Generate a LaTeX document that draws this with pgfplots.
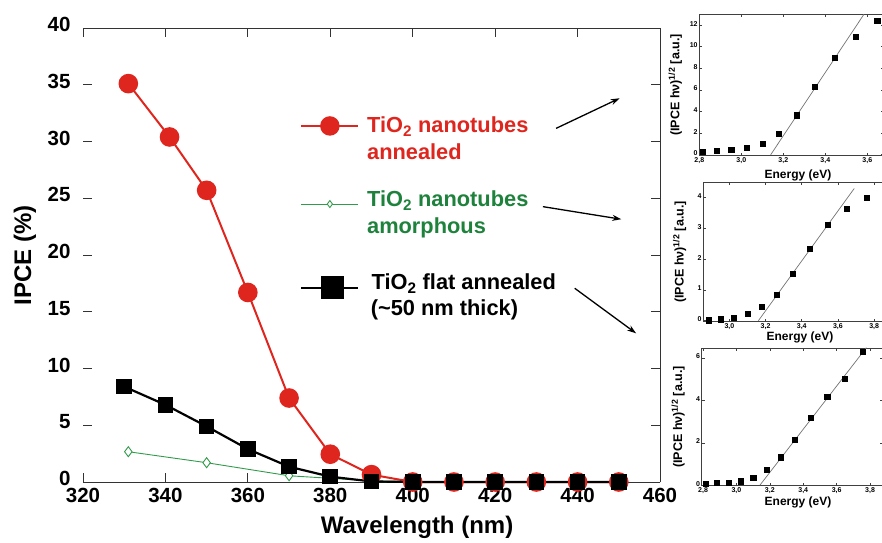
\documentclass[border=0pt]{standalone}
\usepackage{fontspec}
\setmainfont{Liberation Sans}
\setsansfont{Liberation Sans}
\usepackage{pgfplots}
\pgfplotsset{compat=1.18}
\usetikzlibrary{arrows.meta}
\definecolor{ired}{RGB}{222,38,30}
\definecolor{igreen}{RGB}{50,155,75}
\definecolor{gtext}{RGB}{30,130,60}

\pgfplotsset{inset/.style={scale only axis,anchor=south west,clip=false,
  tick align=inside,major tick length=3pt,
  axis line style={black!75,line width=0.8pt},tick style={black!75,line width=0.6pt},
  /pgf/number format/assume math mode=true,
  tick label style={font=\bfseries\fontsize{7}{7}\selectfont,inner sep=1.5pt},
  yticklabel style={yshift=1.5pt},
  x tick label style={/pgf/number format/.cd,fixed,fixed zerofill,precision=1,use comma},
  label style={font=\bfseries\fontsize{12}{12}\selectfont},
  xlabel={Energy (eV)},
  ylabel={(IPCE hν)\textsuperscript{1/2} [a.u.]},
  ylabel style={at={(axis description cs:-0.13,0.5)},anchor=center,font=\bfseries\fontsize{12.5}{12.5}\selectfont}}}

\begin{document}
\begin{tikzpicture}[x=1pt,y=1pt]
\useasboundingbox (0,0) rectangle (882,542);

% main IPCE plot
\begin{axis}[at={(83pt,60pt)},anchor=south west,width=577pt,height=454pt,scale only axis,
  xmin=320,xmax=460,ymin=0,ymax=40,xtick={320,340,...,460},ytick={0,5,...,40},
  tick align=inside,major tick length=9pt,tick style={black!80,line width=0.8pt},
  separate axis lines,x axis line style={black!80,line width=0.9pt},y axis line style={draw=none},
  /pgf/number format/assume math mode=true,
  tick label style={font=\bfseries\fontsize{20.5}{20.5}\selectfont},
  yticklabel style={xshift=-9pt,yshift=3.5pt},xticklabel style={yshift=-3pt},
  xlabel={Wavelength (nm)},ylabel={IPCE (\%)},
  label style={font=\bfseries\fontsize{24}{24}\selectfont},
  xlabel style={at={(axis description cs:0.579,-0.099)},anchor=center},
  ylabel style={at={(axis description cs:-0.1005,0.5)},anchor=center},
  clip=false]
\draw[black!80,line width=0.9pt] (rel axis cs:1,0) -- (rel axis cs:1,1);

\addplot[ired,line width=2pt,mark=*,mark size=8.8pt] coordinates {
(331,35.1) (341,30.4) (350,25.7) (360,16.7) (370,7.4) (380,2.45) (390,0.65)
(400,0) (410,0) (420,0) (430,0) (440,0) (450,0)};
\addplot[igreen,line width=0.9pt,mark=diamond*,mark size=5pt,mark options={fill=white,line width=0.9pt}] coordinates {
(331,2.67) (350,1.7) (370,0.55) (390,0.1) (410,0)};
\addplot[black,line width=2.2pt,mark=square*,mark size=6.7pt] coordinates {
(330,8.4) (340,6.8) (350,4.9) (360,2.9) (370,1.35) (380,0.47) (390,0.05)
(400,0) (410,0) (420,0) (430,0) (440,0) (450,0)};

% legend
\addplot[ired,line width=1.5pt,mark=*,mark size=9pt,mark indices={2}] coordinates {(373,31.37) (379.9,31.37) (386.7,31.37)};
\addplot[igreen,line width=0.9pt,mark=diamond*,mark size=3.5pt,mark indices={2},mark options={fill=white}] coordinates {(373,24.49) (379.9,24.49) (386.7,24.49)};
\addplot[black,line width=1.8pt,mark=square*,mark size=10.5pt,mark indices={2}] coordinates {(373,17.12) (380.6,17.12) (386.7,17.12)};

\begin{scope}[every node/.style={anchor=base west,inner sep=0pt,font=\bfseries\fontsize{21.8}{21.8}\selectfont}]
\node[text=ired] at (axis cs:388.9,30.78) {TiO\textsubscript{2} nanotubes};
\node[text=ired] at (axis cs:388.9,28.43) {annealed};
\node[text=gtext] at (axis cs:388.9,24.26) {TiO\textsubscript{2} nanotubes};
\node[text=gtext] at (axis cs:388.9,21.91) {amorphous};
\node at (axis cs:390,16.92) {TiO\textsubscript{2} flat annealed};
\node at (axis cs:389.8,14.71) {(\textasciitilde 50 nm thick)};
\end{scope}

\draw[-{Stealth[length=9pt,width=6pt]},line width=1.3pt] (axis cs:434.8,31.16) -- (axis cs:450.2,33.81);
\draw[-{Stealth[length=9pt,width=6pt]},line width=1.3pt] (axis cs:431.6,24.26) -- (axis cs:450.6,23.15);
\draw[-{Stealth[length=9pt,width=6pt]},line width=1.3pt] (axis cs:439.3,17.07) -- (axis cs:454.2,13.10);
\end{axis}

% inset: nanotubes annealed
\begin{axis}[inset,at={(699.3pt,386.3pt)},width=184.8pt,height=141.4pt,
  xmin=2.8,xmax=3.68,ymin=-0.09,ymax=13.0,xtick={2.8,3.0,3.2,3.4,3.6},ytick={0,2,...,12},
  xlabel style={at={(axis description cs:0.534,-0.14)},anchor=center}]
\addplot[only marks,mark=square*,mark size=2.6pt,black] table {
x y
2.818 0.31
2.884 0.40
2.952 0.50
3.024 0.68
3.100 0.99
3.179 1.95
3.263 3.65
3.351 6.28
3.444 8.95
3.543 10.96
3.647 12.4
};
\addplot[black!55,line width=0.7pt] coordinates {(3.14,0) (3.584,13.0)};
\end{axis}

% inset: nanotubes amorphous
\begin{axis}[inset,at={(703.3pt,220.3pt)},width=181.7pt,height=139.4pt,
  xmin=2.856,xmax=3.86,ymin=-0.03,ymax=4.5,xtick={3.0,3.2,3.4,3.6,3.8},ytick={0,1,...,4},
  xlabel style={at={(axis description cs:0.532,-0.115)},anchor=center}]
\addplot[only marks,mark=square*,mark size=2.6pt,black] table {
x y
2.884 0.02
2.952 0.05
3.024 0.10
3.100 0.22
3.179 0.46
3.263 0.84
3.351 1.52
3.444 2.35
3.543 3.11
3.647 3.63
3.758 4.00
};
\addplot[black!55,line width=0.7pt] coordinates {(3.16,0) (3.69,4.3)};
\end{axis}

% inset: flat film
\begin{axis}[inset,at={(701.7pt,56.3pt)},width=181.7pt,height=137.4pt,
  xmin=2.792,xmax=3.88,ymin=-0.02,ymax=6.46,xtick={2.8,3.0,3.2,3.4,3.6,3.8},ytick={0,2,4,6},
  xlabel style={at={(axis description cs:0.53,-0.12)},anchor=center}]
\addplot[only marks,mark=square*,mark size=2.6pt,black] table {
x y
2.818 0.08
2.884 0.11
2.952 0.13
3.024 0.19
3.100 0.35
3.179 0.74
3.263 1.32
3.351 2.16
3.444 3.17
3.543 4.19
3.647 5.02
3.758 6.30
};
\addplot[black!55,line width=0.7pt] coordinates {(3.14,0) (3.778,6.49)};
\end{axis}
\end{tikzpicture}
\end{document}
